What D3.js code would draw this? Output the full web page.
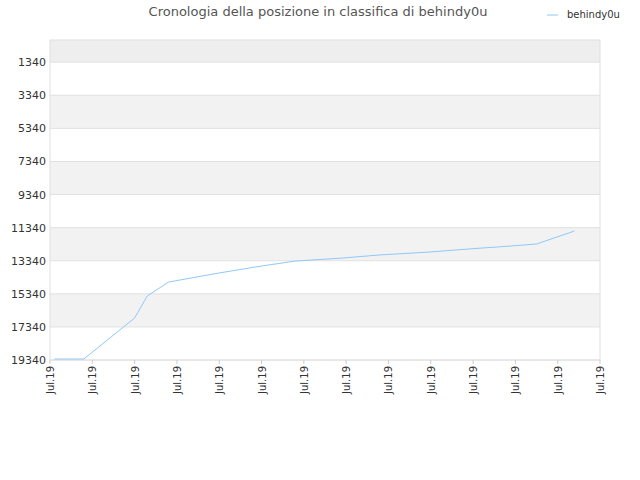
<!DOCTYPE html>
<html><head><meta charset="utf-8">
<script src="https://cdn.jsdelivr.net/npm/d3@7"></script>
<style>body{margin:0;background:#fff}text{font-family:"DejaVu Sans",sans-serif}</style>
</head><body><svg id="c" width="640" height="480"></svg>
<script>
const title = "Cronologia della posizione in classifica di behindy0u";
const seriesName = "behindy0u";
const xTickLabels = ["Jul.19","Jul.19","Jul.19","Jul.19","Jul.19","Jul.19","Jul.19","Jul.19","Jul.19","Jul.19","Jul.19","Jul.19","Jul.19","Jul.19"];
const yTicks = [1340,3340,5340,7340,9340,11340,13340,15340,17340,19340];
const days = [1,8,20,23,28,40,50,58,69,78,90,99,109,115,124];
const ranks = [19280,19280,16800,15470,14630,14080,13660,13360,13180,12990,12810,12630,12450,12330,11540];

const svg = d3.select("#c");
const L=50,R=600,T=40,B=360;
const x = d3.scaleLinear().domain([0,130]).range([L,R]);
const y = d3.scaleLinear().domain([0,19340]).range([T,B]);

// bands
const bounds=[0,...yTicks];
for(let i=0;i<bounds.length-1;i++){
  const grey = i===0 ? "#eeeeee" : (i%2===0 ? "#f2f2f2" : "#ffffff");
  svg.append("rect").attr("x",L).attr("width",R-L).attr("y",y(bounds[i])).attr("height",y(bounds[i+1])-y(bounds[i])).attr("fill",grey);
}
yTicks.forEach(t=>svg.append("line").attr("x1",L).attr("x2",R).attr("y1",y(t)).attr("y2",y(t)).attr("stroke","#e0e0e0"));
svg.append("rect").attr("x",L).attr("y",T).attr("width",R-L).attr("height",B-T).attr("fill","none").attr("stroke","#e0e0e0");

yTicks.forEach(t=>svg.append("text").attr("x",L-4).attr("y",y(t)+4).attr("text-anchor","end").attr("font-size",11).attr("fill","#333").text(t));
xTickLabels.forEach((s,i)=>{
  const px=x(i*10);
  svg.append("line").attr("x1",px).attr("x2",px).attr("y1",B).attr("y2",B+4).attr("stroke","#ccc");
  svg.append("text").attr("transform",`translate(${px+4},${B+6}) rotate(-90)`).attr("text-anchor","end").attr("font-size",10).attr("fill","#333").text(s);
});

svg.append("path").datum(days.map((d,i)=>[d,ranks[i]]))
  .attr("d",d3.line().x(d=>x(d[0])).y(d=>y(d[1])))
  .attr("fill","none").attr("stroke","#90c8f8").attr("stroke-width",1);

svg.append("text").attr("x",318).attr("y",16).attr("text-anchor","middle").attr("font-size",13).attr("fill","#555").text(title);
svg.append("line").attr("x1",547).attr("x2",558).attr("y1",15).attr("y2",15).attr("stroke","#90c8f8");
svg.append("text").attr("x",567).attr("y",18).attr("font-size",10).attr("fill","#333").text(seriesName);
</script></body></html>
